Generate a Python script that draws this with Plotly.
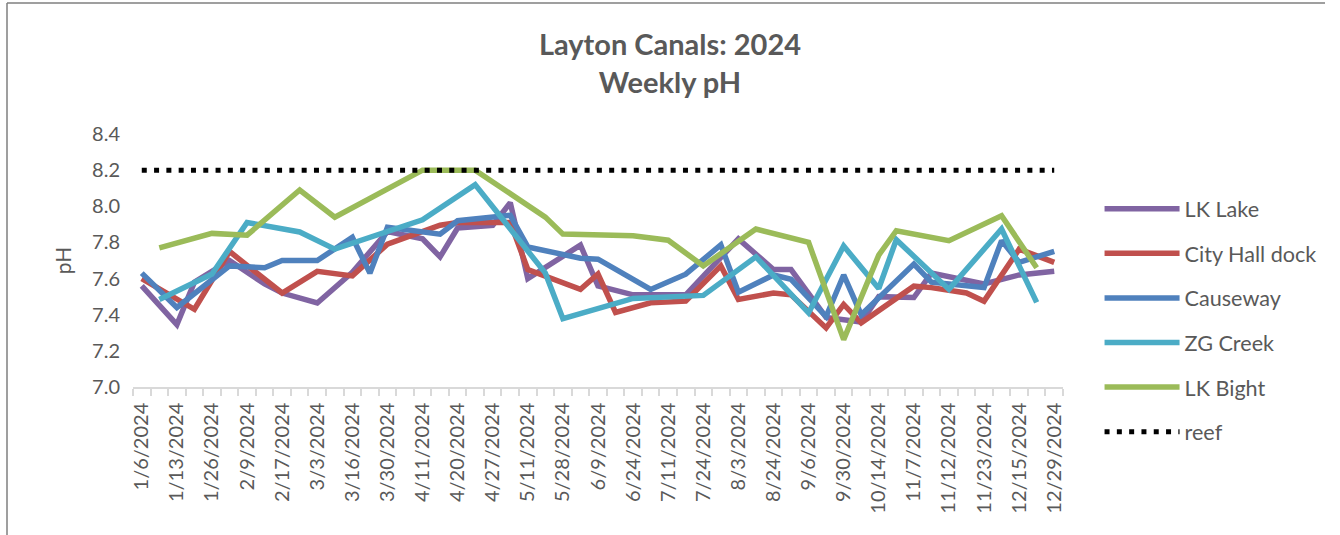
import plotly.graph_objects as go

# ---- categories (53 weekly samples; every other one is labelled) ----
dates = [
    "1/6/2024", "1/10/2024", "1/13/2024", "1/20/2024", "1/26/2024", "2/2/2024",
    "2/9/2024", "2/13/2024", "2/17/2024", "2/24/2024", "3/3/2024", "3/9/2024",
    "3/16/2024", "3/23/2024", "3/30/2024", "4/6/2024", "4/11/2024", "4/16/2024",
    "4/20/2024", "4/23/2024", "4/27/2024", "5/4/2024", "5/11/2024", "5/18/2024",
    "5/28/2024", "6/1/2024", "6/9/2024", "6/16/2024", "6/24/2024", "7/1/2024",
    "7/11/2024", "7/17/2024", "7/24/2024", "7/29/2024", "8/3/2024", "8/10/2024",
    "8/24/2024", "8/31/2024", "9/6/2024", "9/17/2024", "9/30/2024", "10/7/2024",
    "10/14/2024", "10/27/2024", "11/7/2024", "11/9/2024", "11/12/2024", "11/17/2024",
    "11/23/2024", "12/1/2024", "12/15/2024", "12/21/2024", "12/29/2024",
]

tick_labels = [
    "1/6/2024", "1/13/2024", "1/26/2024", "2/9/2024", "2/17/2024", "3/3/2024",
    "3/16/2024", "3/30/2024", "4/11/2024", "4/20/2024", "4/27/2024", "5/11/2024",
    "5/28/2024", "6/9/2024", "6/24/2024", "7/11/2024", "7/24/2024", "8/3/2024",
    "8/24/2024", "9/6/2024", "9/30/2024", "10/14/2024", "11/7/2024", "11/12/2024",
    "11/23/2024", "12/15/2024", "12/29/2024",
]

N = None
# ---- series values (pH) ----
lk_lake = [
    7.56, N, 7.345, 7.58, N, 7.70, N, 7.57, 7.52, N,
    7.465, N, 7.635, N, 7.86, N, 7.82, 7.72, 7.88, N,
    7.895, 8.02, 7.60, N, N, 7.785, 7.56, N, 7.51, N,
    N, 7.51, N, N, 7.82, N, 7.65, 7.65, N, 7.385,
    N, 7.36, 7.50, N, 7.495, 7.63, N, N, 7.57, N,
    7.62, N, 7.64,
]

city_hall_dock = [
    7.60, N, N, 7.43, N, 7.75, N, N, 7.52, N,
    7.64, N, 7.615, N, 7.79, N, 7.865, 7.895, 7.91, N,
    N, 7.91, 7.65, N, N, 7.54, 7.625, 7.413, N, 7.466,
    N, 7.475, N, 7.67, 7.484, N, 7.52, 7.51, N, 7.327,
    7.457, 7.355, N, N, 7.558, 7.55, N, 7.52, 7.475, N,
    7.763, N, 7.69,
]

causeway = [
    7.63, N, 7.44, N, N, 7.67, N, 7.66, 7.70, N,
    7.70, N, 7.828, 7.63, 7.884, N, 7.856, 7.846, 7.92, N,
    7.94, 7.95, 7.775, N, N, 7.713, 7.707, N, N, 7.54,
    N, 7.624, N, 7.787, 7.525, N, 7.62, 7.596, N, 7.39,
    7.62, 7.40, N, N, 7.68, 7.58, N, N, 7.55, 7.81,
    7.69, N, 7.75,
]

zg_creek = [
    N, 7.484, N, N, 7.625, N, 7.91, N, N, 7.858,
    N, 7.763, N, N, N, N, 7.925, N, N, 8.12,
    N, N, N, 7.63, 7.378, N, N, N, 7.49, N,
    N, N, 7.507, N, N, 7.72, N, N, 7.41, N,
    7.78, N, 7.545, 7.815, N, N, 7.54, N, N, 7.874,
    N, 7.468, N,
]

lk_bight = [
    N, 7.77, N, N, 7.85, N, 7.84, N, N, 8.09,
    N, 7.94, N, N, N, N, 8.2, 8.2, 8.2, 8.2,
    N, N, N, 7.94, 7.846, N, N, N, 7.837, N,
    7.812, N, 7.67, N, N, 7.874, N, N, 7.80, N,
    7.262, N, 7.73, 7.865, N, N, 7.81, N, N, 7.948,
    N, 7.66, N,
]

reef = [8.2] * len(dates)

series = [
    ("LK Lake", lk_lake, "#8064A2"),
    ("City Hall dock", city_hall_dock, "#C0504D"),
    ("Causeway", causeway, "#4F81BD"),
    ("ZG Creek", zg_creek, "#4BACC6"),
    ("LK Bight", lk_bight, "#9BBB59"),
]

FONT = "Lato, 'Open Sans', sans-serif"
TXT = "#595959"

fig = go.Figure()
for name, vals, color in series:
    fig.add_trace(go.Scatter(
        x=dates, y=vals, name=name, mode="lines", connectgaps=True,
        legendgroup=name,
        line=dict(color=color, width=5.5),
    ))
fig.add_trace(go.Scatter(
    x=dates, y=reef, name="reef", mode="lines", legendgroup="reef",
    line=dict(color="black", width=5, dash="5px,7.3px"),
))

ticktext = [d if d in tick_labels else "" for d in dates]

fig.update_layout(
    width=1340, height=535,
    margin=dict(l=133, r=277, t=134, b=148),
    paper_bgcolor="white", plot_bgcolor="white",
    font=dict(family=FONT, color=TXT),
    title=dict(
        text="<b>Layton Canals: 2024<br>Weekly pH</b>",
        x=0.5, xanchor="center", xref="container",
        y=1 - 55 / 535, yanchor="top", yref="container",
        font=dict(size=29, color=TXT, family=FONT),
    ),
    legend=dict(
        x=1.0393, xanchor="left", y=0.264, yanchor="middle",
        font=dict(size=21.6, color=TXT, family=FONT),
        tracegroupgap=13.5, itemwidth=75, bgcolor="rgba(0,0,0,0)",
        maxheight=520,
    ),
    showlegend=True,
)

fig.update_xaxes(
    type="category", tickmode="array", tickvals=dates, ticktext=ticktext,
    range=[-0.5, len(dates) - 0.5],
    tickson="boundaries", ticks="outside", ticklen=7, tickcolor="#D9D9D9",
    tickwidth=1.5, showline=True, linecolor="#D9D9D9", linewidth=1.5,
    showgrid=False, zeroline=False, tickangle=-90, automargin=False,
    tickfont=dict(size=20, color=TXT, family=FONT),
    ticklabelstandoff=6,
)
fig.update_yaxes(
    range=[7.0, 8.4], dtick=0.2, tickformat=".1f", showgrid=False,
    zeroline=False, showline=False, ticks="", automargin=False,
    tickfont=dict(size=20, color=TXT, family=FONT),
    ticklabelstandoff=12,
    title=dict(text="pH", font=dict(size=21, color=TXT, family=FONT), standoff=14),
)

# outer chart border (partially visible in the reference)
fig.add_shape(type="line", xref="paper", yref="paper",
              x0=(7 - 133) / 930, x1=(7 - 133) / 930, y0=-1, y1=(387 - 3) / 253,
              line=dict(color="#7F7F7F", width=1.5))
fig.add_shape(type="line", xref="paper", yref="paper",
              x0=(7 - 133) / 930, x1=(1325 - 133) / 930,
              y0=(387 - 3) / 253, y1=(387 - 3) / 253,
              line=dict(color="#7F7F7F", width=1.5))

fig.write_html("out.html", config={"displayModeBar": False},
               post_script="document.body.style.margin='0';")
